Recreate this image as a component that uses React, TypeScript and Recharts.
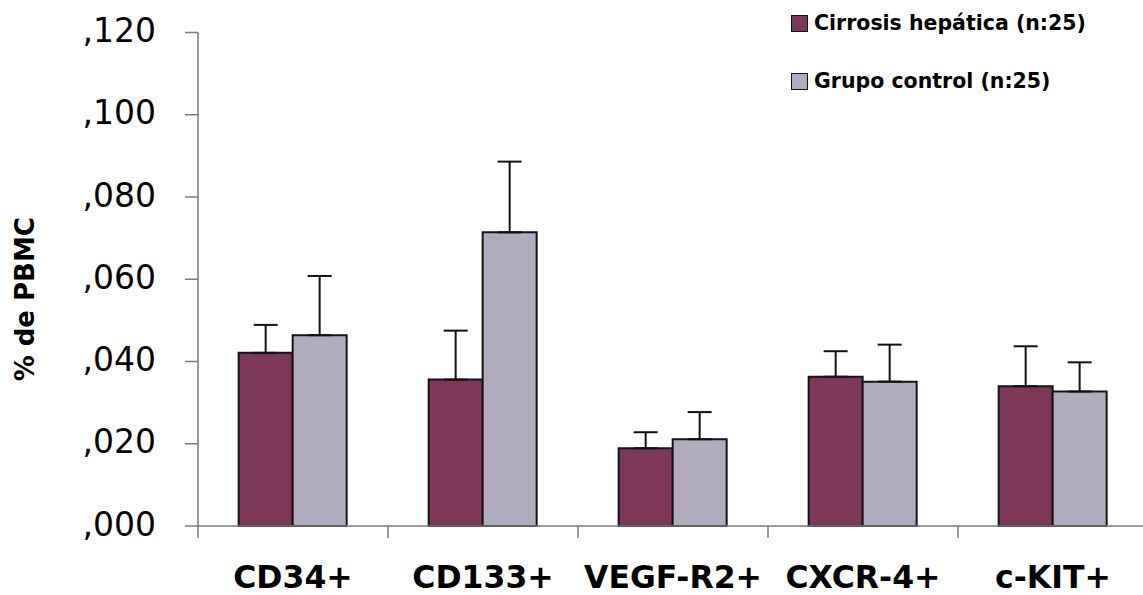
import React from 'react';
import { BarChart, Bar, XAxis, YAxis, ErrorBar, Legend, Label } from 'recharts';

const categories = ['CD34+', 'CD133+', 'VEGF-R2+', 'CXCR-4+', 'c-KIT+'];
const cirrosisValues = [0.0421, 0.0356, 0.0189, 0.0363, 0.034];
const cirrosisErrors = [0.0068, 0.0119, 0.0039, 0.0062, 0.0097];
const controlValues = [0.0464, 0.0714, 0.0211, 0.0351, 0.0327];
const controlErrors = [0.0144, 0.0172, 0.0066, 0.009, 0.0071];
const yTicks = [0, 0.02, 0.04, 0.06, 0.08, 0.1, 0.12];
const seriesNames = ['Cirrosis hepática (n:25)', 'Grupo control (n:25)'];
const boundaryTicks = [0, 1, 2, 3, 4, 5];

const DARK = '#7D3759';
const LIGHT = '#B0ACBE';
const AXIS = '#7a7a7a';
const FONT = '"DejaVu Sans", Verdana, sans-serif';

const data = categories.map((c, i) => ({
  name: c,
  idx: i,
  cirrosis: cirrosisValues[i],
  cirrosisErr: [0, cirrosisErrors[i]],
  control: controlValues[i],
  controlErr: [0, controlErrors[i]],
}));

const fmt = (v: number) => ',' + v.toFixed(3).split('.')[1];

const renderLegend = () => (
  <div style={{ fontFamily: FONT, fontWeight: 'bold', fontSize: 20.5, color: '#000' }}>
    {seriesNames.map((n, i) => (
      <div
        key={n}
        style={{ display: 'flex', alignItems: 'center', height: 22, marginBottom: i === 0 ? 36 : 0 }}
      >
        <span
          style={{
            display: 'inline-block',
            width: 15,
            height: 15,
            background: i === 0 ? DARK : LIGHT,
            border: '1.5px solid #111',
            marginRight: 6,
          }}
        />
        <span>{n}</span>
      </div>
    ))}
  </div>
);

const YLabel = (props: any) => {
  const vb = props.viewBox || {};
  const cx = 25;
  const cy = (vb.y || 0) + (vb.height || 0) / 2 + 20;
  return (
    <text
      x={cx}
      y={cy}
      transform={`rotate(-90 ${cx} ${cy})`}
      textAnchor="middle"
      dominantBaseline="central"
      style={{ fontFamily: FONT, fontWeight: 'bold', fontSize: 26, fill: '#000' }}
    >
      % de PBMC
    </text>
  );
};

const EmptyTick = () => <g />;

export default function App() {
  return (
    <div
      style={{
        position: 'absolute',
        left: 0,
        top: 0,
        width: 1143,
        height: 595,
        overflow: 'hidden',
        background: '#fff',
      }}
    >
      <BarChart
        width={1150}
        height={595}
        data={data}
        margin={{ top: 32.5, right: 2, bottom: 0, left: 0 }}
        barCategoryGap="21.4%"
        barGap={0}
      >
        <XAxis
          xAxisId="bounds"
          type="number"
          dataKey="idx"
          domain={[0, 5]}
          ticks={boundaryTicks}
          allowDataOverflow
          height={12}
          tick={<EmptyTick />}
          tickSize={12}
          tickMargin={0}
          stroke={AXIS}
          axisLine={{ stroke: AXIS, strokeWidth: 1.5 }}
          tickLine={{ stroke: AXIS, strokeWidth: 1.5 }}
          interval={0}
        />
        <XAxis
          xAxisId="cat"
          dataKey="name"
          height={57}
          axisLine={false}
          tickLine={false}
          tickSize={12}
          tickMargin={16}
          interval={0}
          tick={{ fontFamily: FONT, fontWeight: 'bold', fontSize: 31.5, fill: '#000' }}
        />
        <YAxis
          width={198}
          domain={[0, 0.12]}
          ticks={yTicks}
          tickFormatter={fmt}
          tickSize={13}
          tickMargin={29}
          stroke={AXIS}
          axisLine={{ stroke: AXIS, strokeWidth: 1.5 }}
          tickLine={{ stroke: AXIS, strokeWidth: 1.5 }}
          tick={{ fontFamily: FONT, fontSize: 33, fill: '#000', dy: -2 }}
          interval={0}
        >
          <Label content={<YLabel />} />
        </YAxis>
        <Legend
          content={renderLegend}
          layout="vertical"
          align="center"
          verticalAlign="middle"
          wrapperStyle={{ position: 'absolute', left: 791, top: 12, width: 350, height: 80 }}
        />
        <Bar
          xAxisId="cat"
          dataKey="cirrosis"
          name={seriesNames[0]}
          fill={DARK}
          stroke="#151515"
          strokeWidth={2}
          isAnimationActive={false}
        >
          <ErrorBar dataKey="cirrosisErr" width={12} stroke="#111" strokeWidth={2} direction="y" />
        </Bar>
        <Bar
          xAxisId="cat"
          dataKey="control"
          name={seriesNames[1]}
          fill={LIGHT}
          stroke="#151515"
          strokeWidth={2}
          isAnimationActive={false}
        >
          <ErrorBar dataKey="controlErr" width={12} stroke="#111" strokeWidth={2} direction="y" />
        </Bar>
      </BarChart>
    </div>
  );
}
